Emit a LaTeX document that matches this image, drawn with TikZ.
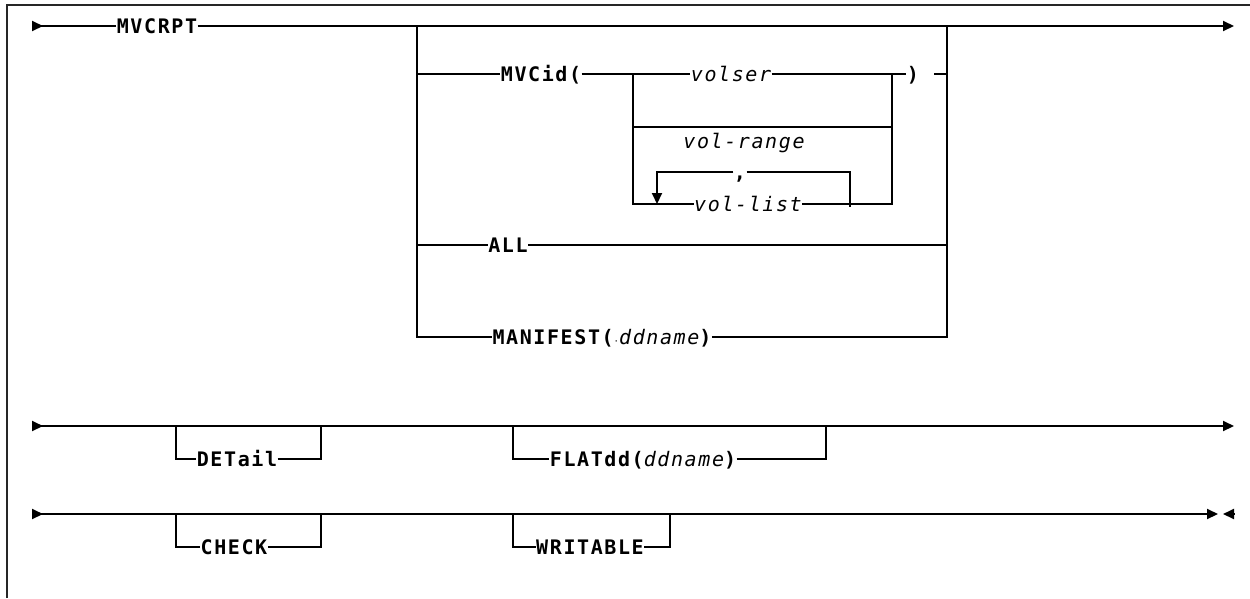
\documentclass[tikz,border=0pt]{standalone}
\usepackage{fontspec}
\usetikzlibrary{calc, positioning, arrows.meta}
\newfontfamily\synfont[LetterSpace=8]{DejaVu Sans Mono}
\newcommand{\synsize}{\fontsize{20}{24}\selectfont}
\newcommand{\synvar}[1]{{\mdseries\itshape #1}}
\tikzset{
  kw/.style={inner sep=0.5pt, outer sep=0pt, text height=14.6pt, text depth=0pt, font=\synfont\synsize\bfseries},
  var/.style={kw, font=\synfont\synsize\itshape},
  rail/.style={line width=2pt},
  tip/.style={-{Triangle[length=11pt,width=10pt]}},
}

\begin{document}
\begin{tikzpicture}[x=1pt, y=-1pt]
\useasboundingbox (0,0) rectangle (1250,598);
\draw[line width=1.6pt, black!85] (7,598) -- (7,5) -- (1250,5);

% row starts and ends
\coordinate (r1s) at (32,26);
\coordinate (r1e) at (1234,26);
\coordinate (r2s) at (32,426);
\coordinate (r2e) at (1234,426);
\coordinate (r3s) at (32,514);
\coordinate (r3e) at (1218,514);
\coordinate (r3x) at (1234,514);
\foreach \r in {r1s,r2s,r3s} {\draw[rail, tip] (\r) -- ++(11,0);}

% first row
\node[kw] (mvcrpt) at (157,26) {MVCRPT};
\draw[rail] (r1s) -- (mvcrpt);
\draw[rail, tip] (mvcrpt) -- (r1e);
\coordinate (bl) at (417,26);
\coordinate (br) at (947,26);
\node[kw] (mvcid) at (541,74) {MVCid(};
\node[var] (volser) at (731,74) {volser};
\node[kw] (rpar) at (913,74) {)};
\coordinate (stub) at (934,74);
\node[kw] (all) at (508,245) {ALL};
\node[kw] (manifest) at (602,337) {MANIFEST({\mdseries\fontsize{9}{9}\selectfont·}\synvar{ddname})};
\draw[rail] (bl) -- (bl |- manifest) -- (manifest) -- (br |- manifest) -- (br);
\draw[rail] (bl |- mvcid) -- (mvcid);
\draw[rail] (mvcid) -- (volser);
\draw[rail] (volser) -- (rpar);
\draw[rail] (stub) -- (br |- stub);
\draw[rail] (bl |- all) -- (all) -- (br |- all);

% volser / vol-range / vol-list
\coordinate (il) at (633,74);
\coordinate (ir) at (892,74);
\coordinate (vr) at (633,127);
\node[var] (vollist) at (748,204) {vol-list};
\node[var, anchor=base] (volrange) at (744,148) {vol-range};
\draw[rail] (il) -- (il |- vollist) -- (vollist) -- (ir |- vollist) -- (ir);
\draw[rail] (vr) -- (vr -| ir);
\coordinate (lpl) at (657,172);
\coordinate (lpr) at (850,172);
\node[kw] (comma) at (740,172) {,};
\draw[rail, tip] (comma) -- (lpl) -- (lpl |- vollist);
\draw[rail] (comma) -- (lpr) -- ($(lpr |- vollist)+(0,3)$);

% second row
\draw[rail, tip] (r2s) -- (r2e);
\coordinate (d1) at (176,426);
\coordinate (d2) at (321,426);
\node[kw] (detail) at (237,459) {DETail};
\draw[rail] (d1) -- (d1 |- detail) -- (detail) -- (d2 |- detail) -- (d2);
\coordinate (f1) at (513,426);
\coordinate (f2) at (826,426);
\node[kw] (flatdd) at (643,459) {FLATdd(\synvar{ddname})};
\draw[rail] (f1) -- (f1 |- flatdd) -- (flatdd) -- (f2 |- flatdd) -- (f2);

% third row
\draw[rail, tip] (r3s) -- (r3e);
\draw[rail, tip] (r3x) -- ++(-11,0);
\coordinate (c1) at (176,514);
\coordinate (c2) at (321,514);
\node[kw] (check) at (234,547) {CHECK};
\draw[rail] (c1) -- (c1 |- check) -- (check) -- (c2 |- check) -- (c2);
\coordinate (w1) at (513,514);
\coordinate (w2) at (670,514);
\node[kw] (writable) at (590,547) {WRITABLE};
\draw[rail] (w1) -- (w1 |- writable) -- (writable) -- (w2 |- writable) -- (w2);
\end{tikzpicture}
\end{document}
